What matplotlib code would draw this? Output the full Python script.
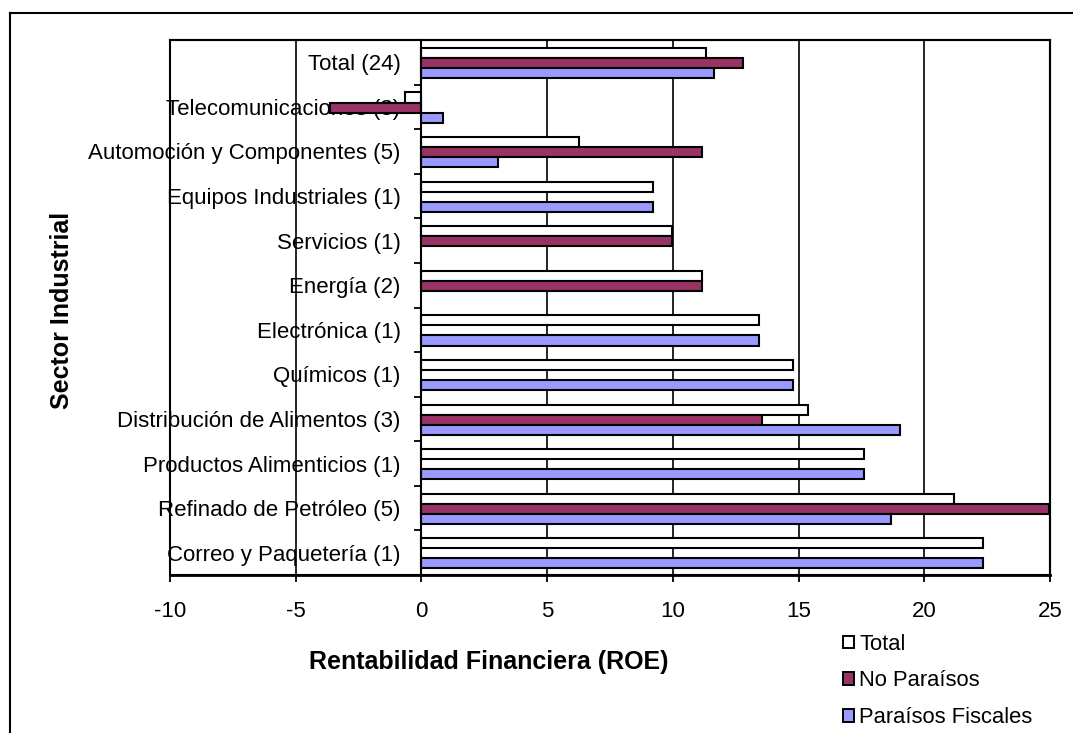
import numpy as np
import matplotlib
matplotlib.use("Agg")
import matplotlib.pyplot as plt
from matplotlib.patches import Patch, Rectangle
from matplotlib.lines import Line2D

plt.rcParams['font.family'] = ['Liberation Sans', 'DejaVu Sans']

# Sectors (top to bottom) and ROE by group
sectores = [
    "Total (24)",
    "Telecomunicaciones (3)",
    "Automoción y Componentes (5)",
    "Equipos Industriales (1)",
    "Servicios (1)",
    "Energía (2)",
    "Electrónica (1)",
    "Químicos (1)",
    "Distribución de Alimentos (3)",
    "Productos Alimenticios (1)",
    "Refinado de Petróleo (5)",
    "Correo y Paquetería (1)",
]
roe_total = [11.31, -0.65, 6.27, 9.20, 9.96, 11.17, 13.42, 14.78, 15.37, 17.60, 21.20, 22.35]
roe_no_paraisos = [12.79, -3.64, 11.15, np.nan, 9.96, 11.17, np.nan, np.nan, 13.55, np.nan, 24.95, np.nan]
roe_paraisos = [11.65, 0.85, 3.03, 9.20, np.nan, np.nan, 13.42, 14.78, 19.03, 17.60, 18.68, 22.35]

series = [
    ("Total", roe_total, "#FFFFFF"),
    ("No Paraísos", roe_no_paraisos, "#993366"),
    ("Paraísos Fiscales", roe_paraisos, "#9999FF"),
]
x_ticks = [-10, -5, 0, 5, 10, 15, 20, 25]

W, H = 1073, 733
fig = plt.figure(figsize=(W / 100, H / 100), dpi=100)
ax = fig.add_axes([170 / W, 1 - 575 / H, 880 / W, 535 / H])

n = len(sectores)
pos = np.arange(n)
bh = 0.226
for i, (name, vals, col) in enumerate(series):
    y = pos + (i - 1) * bh + 0.015
    v = np.array(vals, dtype=float)
    m = ~np.isnan(v)
    ax.barh(y[m], v[m], height=bh, color=col, edgecolor="black",
            linewidth=1.5, zorder=3, label=name)

ax.set_ylim(n - 0.5, -0.5)
ax.set_xlim(-10, 25)
ax.set_xticks(x_ticks)
ax.set_xticklabels([str(t) for t in x_ticks])

# vertical gridlines (the zero line is the category axis)
for t in x_ticks[1:-1]:
    if t != 0:
        ax.axvline(t, color="black", linewidth=1.2, zorder=1)

# category axis crossing at zero
ax.spines['left'].set_position(('data', 0))
ax.spines['left'].set_linewidth(1.5)
ax.spines['left'].set_zorder(4)
ax.set_yticks(pos)
ax.set_yticklabels(sectores)
ax.set_yticks(np.arange(n + 1) - 0.5, minor=True)
ax.tick_params(axis='y', which='major', length=0, pad=15, labelsize=16)
ax.tick_params(axis='y', which='minor', length=5, width=1.3, direction='out')
for lab in ax.get_yticklabels():
    lab.set_zorder(5)

ax.tick_params(axis='x', length=5, width=1.3, direction='out', pad=14, labelsize=16)
for s in ['top', 'right', 'bottom']:
    ax.spines[s].set_linewidth(1.5)
ax.spines['bottom'].set_linewidth(2.0)

# plot area border on the left edge
ax.add_patch(Rectangle((0, 0), 1, 1, transform=ax.transAxes, fill=False,
                       edgecolor="black", linewidth=1.5, zorder=4, clip_on=False))

fig.text(489 / W, 1 - 662 / H, "Rentabilidad Financiera (ROE)", ha="center",
         va="center", fontsize=18, fontweight="bold")
fig.text(62 / W, 1 - 310 / H, "Sector Industrial", ha="center", va="center",
         rotation=90, fontsize=18, fontweight="bold")

handles = [Patch(facecolor=c, edgecolor="black", linewidth=1.4, label=nm)
           for nm, _, c in series]
fig.legend(handles=handles, loc="center left", bbox_to_anchor=(843 / W, 1 - 681 / H),
           frameon=False, fontsize=15.8, handlelength=0.5, handleheight=0.5,
           handletextpad=0.25, labelspacing=0.72, borderpad=0, borderaxespad=0)

# chart frame
fig.add_artist(Line2D([10 / W, 10 / W], [0, 1 - 12.5 / H], color="black",
                      linewidth=1.5, transform=fig.transFigure))
fig.add_artist(Line2D([10 / W, 1], [1 - 12.5 / H, 1 - 12.5 / H], color="black",
                      linewidth=1.5, transform=fig.transFigure))

fig.savefig("out.png", dpi=100)
